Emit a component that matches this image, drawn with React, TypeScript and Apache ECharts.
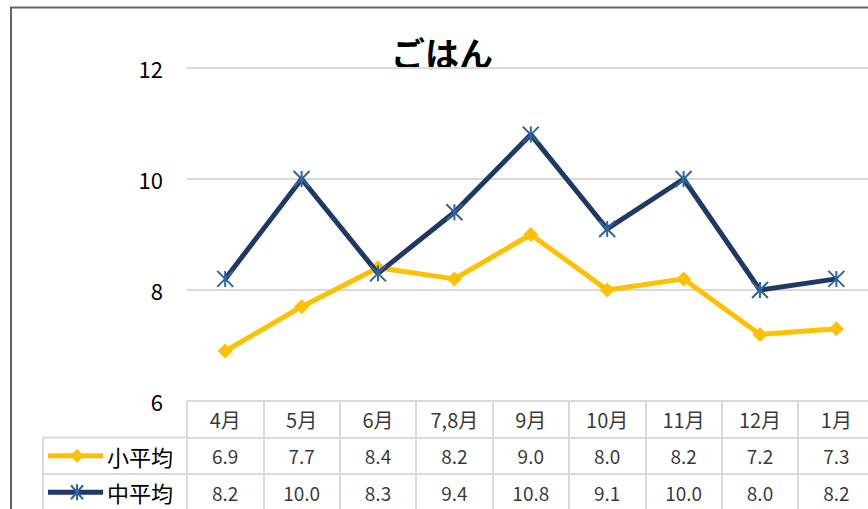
import React, { useEffect, useRef } from "react";
import * as echarts from "echarts";

const categories = ["4月", "5月", "6月", "7,8月", "9月", "10月", "11月", "12月", "1月"];
const smallAvg = [6.9, 7.7, 8.4, 8.2, 9.0, 8.0, 8.2, 7.2, 7.3];
const midAvg = [8.2, 10.0, 8.3, 9.4, 10.8, 9.1, 10.0, 8.0, 8.2];
const seriesNames = ["小平均", "中平均"];
const titleText = "ごはん";
const yMin = 6;
const yMax = 12;
const yInterval = 2;

const FONT = "'Noto Sans CJK JP', 'Noto Sans', sans-serif";
const GOLD = "#FFC000";
const NAVY = "#203864";
const STAR = "#2E64A0";
const GRIDC = "#D9D9D9";
const STAR_PATH = "path://M0,0L10,10M10,0L0,10M5,0L5,10";

export default function App() {
  const ref = useRef<HTMLDivElement>(null);
  useEffect(() => {
    if (!ref.current) return;
    const chart = echarts.init(ref.current, undefined, { renderer: "svg" });
    const left = 187;
    const bandW = 76.4;
    const plotW = bandW * categories.length;
    const rowH = 36.5;
    const tableTop = 401;

    const textLabel = (fmt: (p: any) => string, size: number) => ({
      show: true,
      position: "inside",
      color: "#000",
      fontSize: size,
      fontFamily: FONT,
      formatter: fmt,
    });

    const option: any = {
      animation: false,
      backgroundColor: "#fff",
      grid: [
        { left, top: 68, width: plotW, height: tableTop - 68 },
        { left, top: tableTop, width: plotW, height: rowH * 3 },
      ],
      xAxis: [
        {
          type: "category",
          gridIndex: 0,
          data: categories,
          boundaryGap: true,
          axisLine: { show: false },
          axisTick: { show: false },
          axisLabel: { show: false },
          splitLine: { show: false },
        },
        {
          type: "category",
          gridIndex: 1,
          data: categories,
          boundaryGap: true,
          axisLine: { show: false },
          axisTick: { show: false, interval: 0 },
          axisLabel: { show: false, interval: 0 },
          splitLine: { show: true, interval: 0, lineStyle: { color: GRIDC, width: 2 } },
        },
      ],
      yAxis: [
        {
          type: "value",
          gridIndex: 0,
          min: yMin,
          max: yMax,
          interval: yInterval,
          axisLine: { show: false },
          axisTick: { show: false },
          axisLabel: { color: "#000", fontSize: 22, fontFamily: FONT, margin: 24 },
          splitLine: { show: true, lineStyle: { color: GRIDC, width: 2 } },
        },
        {
          type: "value",
          gridIndex: 1,
          min: 0,
          max: 3,
          interval: 1,
          inverse: true,
          axisLine: { show: false },
          axisTick: { show: false },
          axisLabel: { show: false },
          splitLine: { show: true, lineStyle: { color: GRIDC, width: 2 } },
        },
      ],
      series: [
        {
          name: seriesNames[0],
          type: "line",
          data: smallAvg,
          xAxisIndex: 0,
          yAxisIndex: 0,
          symbol: "diamond",
          symbolSize: 15,
          lineStyle: { color: GOLD, width: 5 },
          itemStyle: { color: GOLD },
          z: 2,
        },
        {
          name: seriesNames[1],
          type: "line",
          data: midAvg,
          xAxisIndex: 0,
          yAxisIndex: 0,
          symbol: STAR_PATH,
          symbolSize: 16,
          lineStyle: { color: NAVY, width: 5 },
          itemStyle: { color: "none", borderColor: STAR, borderWidth: 2 },
          z: 3,
        },
        {
          type: "scatter",
          xAxisIndex: 1,
          yAxisIndex: 1,
          silent: true,
          symbolSize: 1,
          itemStyle: { color: "transparent" },
          data: categories.map((c) => [c, 0.5]),
          label: textLabel((p: any) => p.value[0], 20),
        },
        {
          type: "scatter",
          xAxisIndex: 1,
          yAxisIndex: 1,
          silent: true,
          symbolSize: 1,
          itemStyle: { color: "transparent" },
          data: smallAvg.map((v, i) => [categories[i], 1.5, v]),
          label: textLabel((p: any) => p.value[2].toFixed(1), 19),
        },
        {
          type: "scatter",
          xAxisIndex: 1,
          yAxisIndex: 1,
          silent: true,
          symbolSize: 1,
          itemStyle: { color: "transparent" },
          data: midAvg.map((v, i) => [categories[i], 2.5, v]),
          label: textLabel((p: any) => p.value[2].toFixed(1), 19),
        },
      ],
      graphic: [
        {
          type: "rect",
          shape: { x: 11, y: 7.5, width: 1200, height: 1200 },
          style: { fill: "none", stroke: "#646464", lineWidth: 2 },
          silent: true,
        },
        {
          type: "text",
          x: 442,
          y: 52,
          style: {
            text: titleText,
            font: `bold 34px ${FONT}`,
            fill: "#000",
            textAlign: "center",
            textVerticalAlign: "middle",
          },
        },
        // legend column lines
        { type: "line", shape: { x1: 43, y1: tableTop + rowH, x2: left, y2: tableTop + rowH }, style: { stroke: GRIDC, lineWidth: 2 } },
        { type: "line", shape: { x1: 43, y1: tableTop + rowH * 2, x2: left, y2: tableTop + rowH * 2 }, style: { stroke: GRIDC, lineWidth: 2 } },
        { type: "line", shape: { x1: 43, y1: tableTop + rowH, x2: 43, y2: 600 }, style: { stroke: GRIDC, lineWidth: 2 } },
        // legend key row 1
        { type: "line", shape: { x1: 48, y1: tableTop + rowH * 1.5, x2: 103, y2: tableTop + rowH * 1.5 }, style: { stroke: GOLD, lineWidth: 5 } },
        {
          type: "polygon",
          shape: {
            points: [
              [77, tableTop + rowH * 1.5 - 7],
              [84, tableTop + rowH * 1.5],
              [77, tableTop + rowH * 1.5 + 7],
              [70, tableTop + rowH * 1.5],
            ],
          },
          style: { fill: GOLD },
        },
        {
          type: "text",
          x: 107,
          y: tableTop + rowH * 1.5,
          style: { text: seriesNames[0], font: `22px ${FONT}`, fill: "#000", textVerticalAlign: "middle" },
        },
        // legend key row 2
        { type: "line", shape: { x1: 48, y1: tableTop + rowH * 2.5, x2: 103, y2: tableTop + rowH * 2.5 }, style: { stroke: NAVY, lineWidth: 5 } },
        { type: "line", shape: { x1: 71, y1: tableTop + rowH * 2.5 - 7, x2: 83, y2: tableTop + rowH * 2.5 + 7 }, style: { stroke: STAR, lineWidth: 2 } },
        { type: "line", shape: { x1: 83, y1: tableTop + rowH * 2.5 - 7, x2: 71, y2: tableTop + rowH * 2.5 + 7 }, style: { stroke: STAR, lineWidth: 2 } },
        { type: "line", shape: { x1: 77, y1: tableTop + rowH * 2.5 - 8, x2: 77, y2: tableTop + rowH * 2.5 + 8 }, style: { stroke: STAR, lineWidth: 2 } },
        {
          type: "text",
          x: 107,
          y: tableTop + rowH * 2.5,
          style: { text: seriesNames[1], font: `22px ${FONT}`, fill: "#000", textVerticalAlign: "middle" },
        },
      ],
    };
    chart.setOption(option);
    return () => chart.dispose();
  }, []);

  return (
    <div
      style={{
        position: "fixed",
        left: 0,
        top: 0,
        width: 868,
        height: 509,
        overflow: "hidden",
        background: "#fff",
      }}
    >
      <div ref={ref} style={{ width: 900, height: 560 }} />
    </div>
  );
}
